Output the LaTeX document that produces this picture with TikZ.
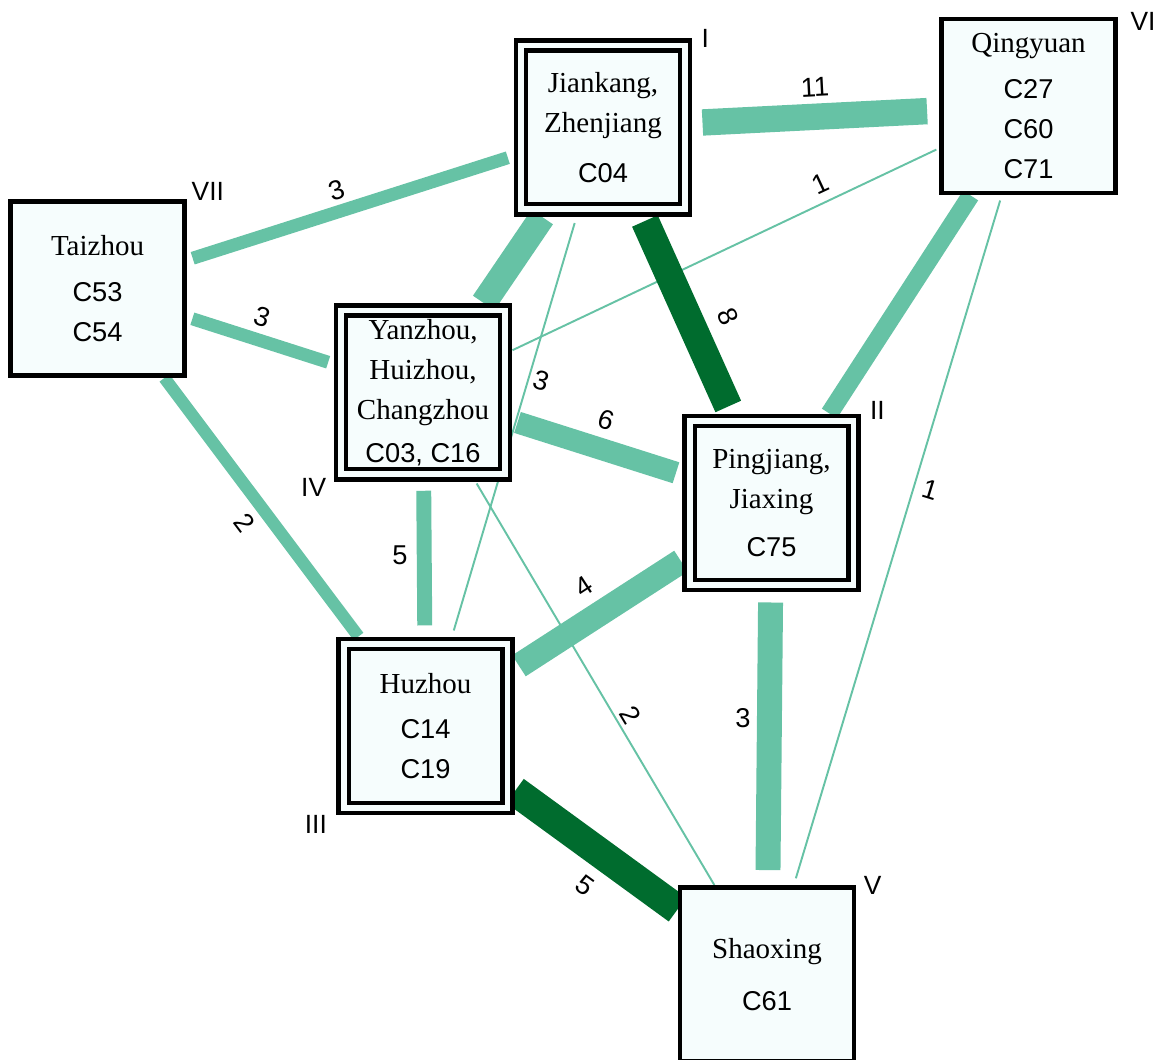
\documentclass[tikz,border=0pt]{standalone}
\usepackage{fontspec}
\setmainfont{Liberation Serif}
\setsansfont{Liberation Sans}
\usetikzlibrary{positioning}

\definecolor{boxfill}{RGB}{246,253,253}
\definecolor{linkpale}{RGB}{102,194,165}
\definecolor{linkdeep}{RGB}{0,108,46}

\newcommand\nm{\fontsize{16.5}{22.8}\selectfont\rmfamily}
\newcommand\cd{\fontsize{15.5}{22.8}\selectfont\sffamily}

\pgfdeclarelayer{bg}
\pgfsetlayers{bg,main}

\begin{document}
\begin{tikzpicture}[x=0.02cm, y=-0.02cm]
    \tikzset{
        one/.style      =   { rectangle
                            , draw=black
                            , line width=2.8pt
                            , fill=boxfill
                            , minimum size=3.48cm
                            , inner sep=0pt
                            , outer sep=0.05cm
                            , align=center
                            , font=\fontsize{16}{22.8}\selectfont
        }
        , two/.style    =   { one
                            , line width=2.5pt
                            , double=boxfill
                            , double distance=3.4pt
                            , minimum size=3.28cm
                            , outer sep=0.15cm
        }
        , pale/.style   =   { draw=linkpale }
        , deep/.style   =   { draw=linkdeep }
        , hair/.style   =   { draw=linkpale
                            , line width=1.1pt
        }
        , lab/.style    =   { inner sep=0pt
                            , font=\fontsize{15.5}{18}\selectfont\sffamily
        }
        , num/.style    =   { inner sep=0pt
                            , font=\fontsize{15}{18}\selectfont\sffamily
        }
    }
    \useasboundingbox (0,0) rectangle (1157,1060);

    \node(I)[two]   at (603,127.5)  {\nm Jiankang,\\ \nm Zhenjiang\\[6pt] \cd C04};
    \node(II)[two]  at (771.5,503)  {\nm Pingjiang,\\ \nm Jiaxing\\[4pt] \cd C75};
    \node(III)[two] at (425.5,726)  {\nm Huzhou\\[3pt] \cd C14\\ \cd C19};
    \node(IV)[two]  at (423,392.5)  {\nm Yanzhou,\\ \nm Huizhou,\\ \nm Changzhou\\[1.5pt] \cd C03, C16};
    \node(V)[one]   at (767,974.5)  {\nm Shaoxing\\[7pt] \cd C61};
    \node(VI)[one]  at (1028.5,106) {\nm Qingyuan\\[3pt] \cd C27\\ \cd C60\\ \cd C71};
    \node(VII)[one] at (97.5,288.5) {\nm Taizhou\\[3pt] \cd C53\\ \cd C54};

    \node(nI)[num, right=5pt of I.north east]                  {I};
    \node(nII)[num, right=5pt of II.north east, yshift=1.5pt]   {II};
    \node(nIII)[num, left=5pt of III.south west, yshift=-5pt]   {III};
    \node(nIV)[num, left=4pt of IV.south west, yshift=-3pt]     {IV};
    \node(nV)[num, right=4pt of V.north east]                  {V};
    \node(nVI)[num, right=7pt of VI.north east, yshift=-3pt]    {VI};
    \node(nVII)[num, right=2.5pt of VII.north east, yshift=4.5pt] {VII};

    \begin{pgfonlayer}{bg}
        \draw[pale, line width=15pt, shorten <=5.7pt, shorten >=6.8pt] (I) -- (VI)
            node(wIVI)[lab, rotate=3] at (815,87) {11};
        \draw[pale, line width=7.4pt, shorten <=3.4pt, shorten >=3.4pt] (VII) -- (I)
            node(wVIII)[lab, rotate=18] at (337,190) {3};
        \draw[pale, line width=7.4pt, shorten <=3.2pt, shorten >=3.2pt] (VII) -- (IV)
            node(wVIIIV)[lab, rotate=-18] at (262,317) {3};
        \draw[hair, shorten <=1.7pt] (VI) -- (IV)
            node(wVIIV)[lab, rotate=25] at (820,184) {1};
        \draw[pale, line width=14.8pt] (I) -- (IV);
        \draw[deep, line width=16pt, shorten <=2.5pt, shorten >=4.4pt] (I) -- (II)
            node(wIII)[lab, rotate=-66] at (728,317) {8};
        \draw[hair, shorten <=3.6pt, shorten >=3.6pt] (I) -- (III)
            node(wIIII)[lab, rotate=-16.5] at (541,381) {3};
        \draw[pale, line width=12.5pt, shorten <=3pt, shorten >=3.6pt] (IV) -- (II)
            node(wIVII)[lab, rotate=-18] at (606,420) {6};
        \draw[pale, line width=10.2pt] (VI) -- (II);
        \draw[hair, shorten <=3pt, shorten >=4pt] (VI) -- (V)
            node(wVIV)[lab, rotate=-17] at (930,490) {1};
        \draw[pale, line width=7pt] (VII) -- (III)
            node(wVIIIII)[lab, rotate=-53] at (245,523) {2};
        \draw[pale, line width=8.5pt, shorten <=5pt, shorten >=6.3pt] (IV) -- (III)
            node(wIVIII)[lab] at (400,555) {5};
        \draw[hair, shorten <=1pt] (IV) -- (V)
            node(wIVV)[lab, rotate=-59] at (631,715) {2};
        \draw[pale, line width=14.2pt, shorten <=2.7pt, shorten >=0.7pt] (III) -- (II)
            node(wIIIII)[lab, rotate=33] at (584,587) {4};
        \draw[pale, line width=14.2pt, shorten <=5.7pt, shorten >=8.5pt] (II) -- (V)
            node(wIIV)[lab] at (743,718) {3};
        \draw[deep, line width=17pt] (III) -- (V)
            node(wIIIV)[lab, rotate=-36] at (585,885) {5};
    \end{pgfonlayer}
\end{tikzpicture}
\end{document}
